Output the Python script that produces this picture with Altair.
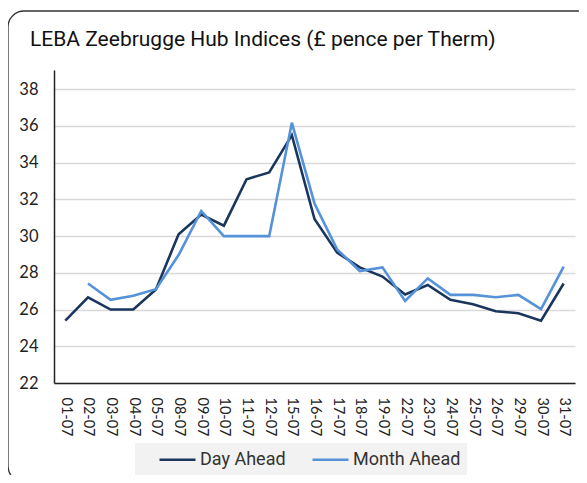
import altair as alt
import pandas as pd

dates = ["01-07", "02-07", "03-07", "04-07", "05-07", "08-07", "09-07", "10-07",
         "11-07", "12-07", "15-07", "16-07", "17-07", "18-07", "19-07", "22-07",
         "23-07", "24-07", "25-07", "26-07", "29-07", "30-07", "31-07"]
day_ahead = [25.4, 26.67, 26.0, 26.0, 27.1, 30.1, 31.18, 30.57, 33.1, 33.47, 35.5,
             30.93, 29.1, 28.3, 27.8, 26.82, 27.34, 26.53, 26.29, 25.91, 25.8, 25.39, 27.42]
month_ahead = [None, 27.42, 26.53, 26.75, 27.11, 28.97, 31.37, 30.0, 30.0, 30.0, 36.18,
               31.78, 29.28, 28.1, 28.3, 26.47, 27.7, 26.8, 26.8, 26.67, 26.8, 26.02, 28.34]
series = ["Day Ahead", "Month Ahead"]
colors = ["#1b365d", "#5592d8"]

rows = []
for d, a, m in zip(dates, day_ahead, month_ahead):
    rows.append({"date": d, "series": series[0], "value": a})
    if m is not None:
        rows.append({"date": d, "series": series[1], "value": m})
df = pd.DataFrame(rows)

frame = alt.Chart(pd.DataFrame({"k": [0]})).mark_rect(
    fill=None, stroke="#333333", strokeWidth=1.3, cornerRadius=16
).encode(x=alt.value(-46), x2=alt.value(540), y=alt.value(-59), y2=alt.value(412))

lines = alt.Chart(df).mark_line(strokeWidth=2.6).encode(
    x=alt.X("date:N", sort=dates, title=None,
            scale=alt.Scale(type="point", padding=0.5),
            axis=alt.Axis(labelAngle=90, labelAlign="left", labelBaseline="middle",
                          labelPadding=14, ticks=False, domainColor="#222222",
                          domainWidth=1.5, labelFontSize=14.5, labelColor="#222222",
                          labelFont="Lato", grid=False)),
    y=alt.Y("value:Q", title=None,
            scale=alt.Scale(domain=[22, 39.05], nice=False, zero=False),
            axis=alt.Axis(values=[22, 24, 26, 28, 30, 32, 34, 36, 38], ticks=False,
                          labelPadding=16, domainColor="#222222", domainWidth=1.5,
                          gridColor="#d9d9d9", gridWidth=1.5, labelFontSize=16.5,
                          labelColor="#222222", labelFont="Lato")),
    color=alt.Color("series:N", sort=series,
                    scale=alt.Scale(domain=series, range=colors),
                    legend=alt.Legend(title=None, orient="none", legendX=81, legendY=373,
                                      direction="horizontal", symbolType="M-2,0H2",
                                      symbolStrokeWidth=2.6, symbolSize=324,
                                      symbolOffset=26, labelFontSize=18,
                                      labelFont="Roboto", labelColor="#333333",
                                      fillColor="#f2f2f2", padding=6,
                                      columnPadding=8, labelOffset=12)),
)

chart = alt.layer(frame, lines).properties(
    width=521, height=313,
    title=alt.TitleParams("LEBA Zeebrugge Hub Indices (£ pence per Therm)",
                          anchor="start", frame="group", dx=-24, dy=61, offset=0,
                          baseline="bottom",
                          fontSize=21, font="Roboto", fontWeight="normal",
                          color="#111111"),
    autosize=alt.AutoSizeParams(type="none"),
    padding={"left": 46, "top": 62, "right": 4, "bottom": 92},
).configure_view(stroke=None)

chart.save("out.html", embed_options={"renderer": "svg", "actions": False})
